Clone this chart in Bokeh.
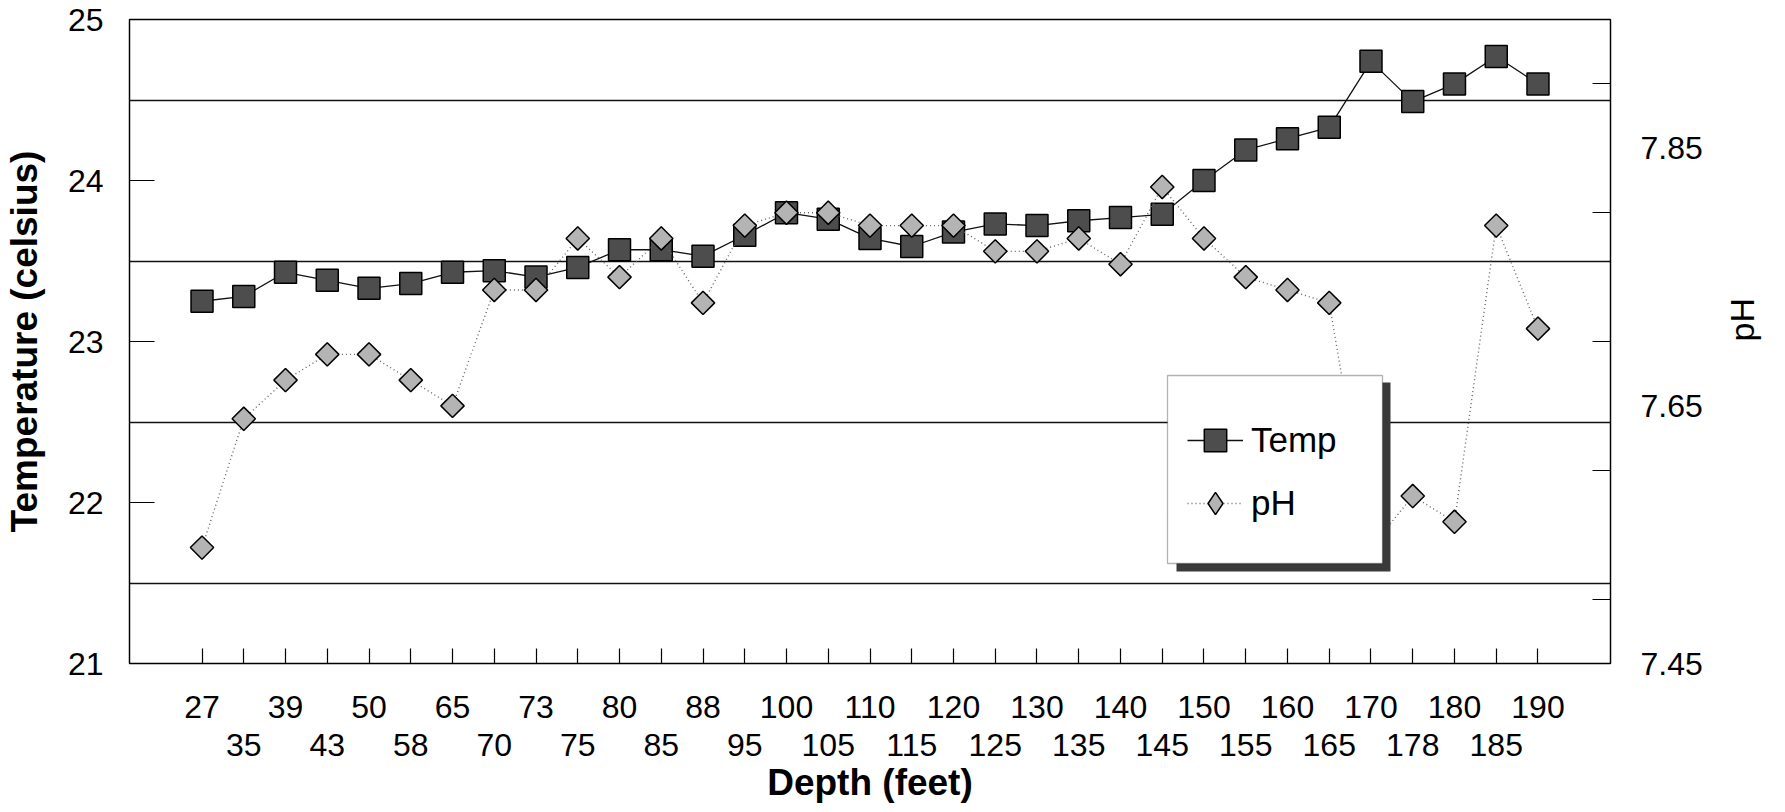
import math
from bokeh.plotting import figure
from bokeh.models import (Range1d, LinearAxis, FixedTicker, Legend, LegendItem,
                          BoxAnnotation, ColumnDataSource, Grid)
from bokeh.embed import file_html
from bokeh.resources import INLINE

# ---- data ----
depth = ["27", "35", "39", "43", "50", "58", "65", "70", "73", "75", "80", "85", "88",
         "95", "100", "105", "110", "115", "120", "125", "130", "135", "140", "145",
         "150", "155", "160", "165", "170", "178", "180", "185", "190"]
temp = [23.25, 23.28, 23.43, 23.38, 23.33, 23.36, 23.43, 23.44, 23.40, 23.46, 23.57,
        23.57, 23.53, 23.66, 23.80, 23.76, 23.64, 23.59, 23.68, 23.73, 23.72, 23.75,
        23.77, 23.79, 24.00, 24.19, 24.26, 24.33, 24.74, 24.49, 24.60, 24.77, 24.60]
ph = [7.54, 7.64, 7.67, 7.69, 7.69, 7.67, 7.65, 7.74, 7.74, 7.78, 7.75, 7.78, 7.73,
      7.79, 7.80, 7.80, 7.79, 7.79, 7.79, 7.77, 7.77, 7.78, 7.76, 7.82, 7.78, 7.75,
      7.74, 7.73, 7.54, 7.58, 7.56, 7.79, 7.71]
temp_ticks = [21, 22, 23, 24, 25]
temp_grid = [21.5, 22.5, 23.5, 24.5]
ph_label_ticks = [7.45, 7.65, 7.85]
ph_minor_ticks = [7.5, 7.6, 7.7, 7.8, 7.9]

FONT = "Liberation Sans"
pos = list(range(len(depth)))
src = ColumnDataSource(dict(x=pos, depth=depth, temp=temp, ph=ph))

p = figure(x_range=Range1d(-1.737, len(depth) - 1 + 1.737), y_range=Range1d(21, 25),
           frame_width=1481, frame_height=644,
           min_border_left=127, min_border_top=19, min_border_right=160, min_border_bottom=10,
           x_axis_location=None, y_axis_location=None,
           output_backend="svg", toolbar_location=None)
# drop any default grids
p.center = [r for r in p.center if not isinstance(r, Grid)]
p.extra_y_ranges = {"ph": Range1d(7.45, 7.95)}
p.background_fill_color = "white"
p.border_fill_color = "white"
p.outline_line_color = "black"
p.outline_line_width = 1.3

# horizontal grid lines
p.add_layout(Grid(dimension=1, ticker=FixedTicker(ticks=temp_grid),
                  grid_line_color="#111111", grid_line_width=1.3), "center")

# left axis
yl = LinearAxis(ticker=FixedTicker(ticks=temp_ticks, minor_ticks=[]),
                axis_label="Temperature (celsius)")
yl.major_tick_in = 25
yl.major_tick_out = 0
yl.major_label_standoff = 26
yl.axis_label_standoff = 20
p.add_layout(yl, "left")

# right axis
yr = LinearAxis(y_range_name="ph",
                ticker=FixedTicker(ticks=ph_label_ticks, minor_ticks=ph_minor_ticks),
                axis_label="pH")
yr.major_tick_line_color = None
yr.minor_tick_in = 18
yr.minor_tick_out = 0
yr.major_label_standoff = 24
yr.axis_label_standoff = 36
if "axis_label_orientation" in yr.properties():
    yr.axis_label_orientation = math.pi / 2
p.add_layout(yr, "right")

# bottom axes: two rows of labels
xa1 = LinearAxis(ticker=FixedTicker(ticks=pos, minor_ticks=[]),
                 major_label_overrides={i: (depth[i] if i % 2 == 0 else "") for i in pos})
xa1.major_tick_in = 15
xa1.major_tick_out = 0
xa1.major_label_standoff = 32
p.add_layout(xa1, "below")

xa2 = LinearAxis(ticker=FixedTicker(ticks=pos, minor_ticks=[]),
                 major_label_overrides={i: (depth[i] if i % 2 == 1 else "") for i in pos},
                 axis_label="Depth (feet)")
xa2.axis_line_color = None
xa2.major_tick_line_color = None
xa2.major_tick_in = 0
xa2.major_tick_out = 0
xa2.major_label_standoff = 13
xa2.axis_label_standoff = 3
p.add_layout(xa2, "below")

for ax in (yl, yr, xa1, xa2):
    ax.major_label_text_font = FONT
    ax.major_label_text_font_size = "32px"
    ax.major_label_text_color = "black"
    ax.axis_label_text_font = FONT
    ax.axis_label_text_color = "black"
    ax.axis_label_text_font_size = "37px"
    ax.axis_label_text_font_style = "bold"
    ax.minor_tick_line_color = "black" if ax is yr else None
    if ax is not xa2:
        ax.axis_line_color = "black"
        ax.axis_line_width = 1.2
        ax.major_tick_line_width = 1.2
yr.axis_label_text_font_style = "normal"
yr.axis_label_text_font_size = "34px"
yr.minor_tick_line_width = 1.2

# series
t_line = p.line("x", "temp", source=src, line_color="#111111", line_width=1.3)
t_pts = p.scatter("x", "temp", source=src, marker="square", size=22,
                  fill_color="#4d4d4d", line_color="black", line_width=1.5)
ph_line = p.line("x", "ph", source=src, y_range_name="ph", line_color="#666666",
                 line_width=1.4, line_dash="1 3")
ph_pts = p.scatter("x", "ph", source=src, y_range_name="ph", marker="square",
                   angle=math.pi / 4, size=16.5,
                   fill_color="#b4b4b4", line_color="black", line_width=1.5)
# legend key for pH (legend keys ignore marker angle, so use a diamond key;
# it holds no plotted point)
ph_key = p.scatter(x=[float("nan")], y=[float("nan")], y_range_name="ph",
                   marker="diamond",
                   fill_color="#b4b4b4", line_color="black", line_width=1.5)

# legend box with shadow (screen units relative to frame)
shadow = BoxAnnotation(left=1047, right=1261, bottom=92, top=281,
                       left_units="screen", right_units="screen",
                       bottom_units="screen", top_units="screen",
                       fill_color="#3a3a3a", fill_alpha=1.0, line_color=None)
box = BoxAnnotation(left=1038, right=1253, bottom=100, top=288,
                    left_units="screen", right_units="screen",
                    bottom_units="screen", top_units="screen",
                    fill_color="white", fill_alpha=1.0,
                    line_color="black", line_width=1.3)
p.add_layout(shadow)
p.add_layout(box)

legend = Legend(items=[LegendItem(label="Temp", renderers=[t_line, t_pts]),
                       LegendItem(label="pH", renderers=[ph_line, ph_key])],
                location=(1058, 132), orientation="vertical")
legend.border_line_color = None
legend.background_fill_alpha = 0
legend.padding = 0
legend.margin = 0
legend.glyph_width = 56
legend.glyph_height = 56
legend.label_standoff = 8
legend.spacing = 7
legend.label_text_font = FONT
legend.label_text_font_size = "35px"
legend.label_text_color = "black"
p.add_layout(legend, "center")

open("out.html", "w").write(file_html(p, INLINE))
